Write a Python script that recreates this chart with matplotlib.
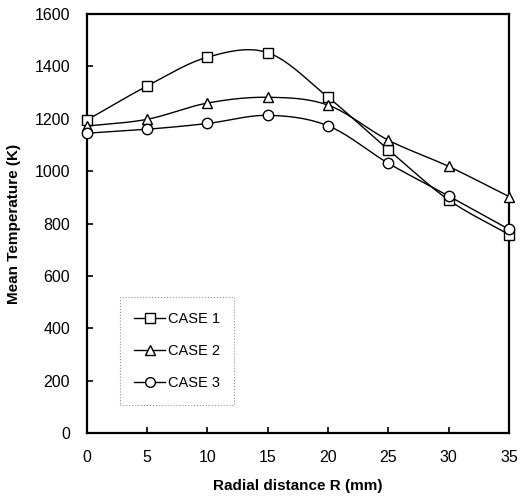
import numpy as np
import matplotlib
matplotlib.use('Agg')
import matplotlib.pyplot as plt

plt.rcParams['font.family'] = ['Liberation Sans', 'DejaVu Sans']

# radial positions (mm)
radius = [0, 5, 10, 15, 20, 25, 30, 35]

# mean temperature (K)
case1 = [1195, 1325, 1435, 1452, 1282, 1082, 890, 758]
case2 = [1172, 1198, 1260, 1282, 1252, 1118, 1018, 903]
case3 = [1145, 1160, 1182, 1213, 1173, 1030, 905, 778]

labels = ['CASE 1', 'CASE 2', 'CASE 3']
markers = ['s', '^', 'o']


def smooth(x, y, n=20):
    """Catmull-Rom curve through the points (like a spreadsheet smoothed line)"""
    x = np.asarray(x, float)
    y = np.asarray(y, float)
    px = np.concatenate([[2 * x[0] - x[1]], x, [2 * x[-1] - x[-2]]])
    py = np.concatenate([[2 * y[0] - y[1]], y, [2 * y[-1] - y[-2]]])
    xs, ys = [], []
    t = np.linspace(0, 1, n, endpoint=False)
    for i in range(1, len(px) - 2):
        for p, out in ((px, xs), (py, ys)):
            p0, p1, p2, p3 = p[i - 1], p[i], p[i + 1], p[i + 2]
            out.extend(0.5 * ((2 * p1) + (-p0 + p2) * t
                              + (2 * p0 - 5 * p1 + 4 * p2 - p3) * t ** 2
                              + (-p0 + 3 * p1 - 3 * p2 + p3) * t ** 3))
    xs.append(x[-1])
    ys.append(y[-1])
    return np.array(xs), np.array(ys)


fig = plt.figure(figsize=(5.2, 4.98), dpi=100)
ax = fig.add_axes([0.167, 0.130, 0.812, 0.842])

handles = []
for vals, lab, mk in zip([case1, case2, case3], labels, markers):
    sx, sy = smooth(radius, vals)
    ax.plot(sx, sy, color='black', lw=1.0, zorder=2)
    ax.plot(radius, vals, linestyle='none', marker=mk, ms=7.5 if mk != 's' else 7,
            mfc='white', mec='black', mew=1.0, zorder=3, clip_on=False)
    h, = ax.plot([], [], color='black', lw=1.0, marker=mk, ms=7,
                 mfc='white', mec='black', mew=1.0, label=lab)
    handles.append(h)

ax.set_xlim(0, 35)
ax.set_ylim(0, 1600)
ax.set_xticks(range(0, 36, 5))
ax.set_yticks(range(0, 1601, 200))
ax.tick_params(direction='in', length=4, width=1.2, labelsize=11.5)
ax.tick_params(axis='x', pad=12)
ax.tick_params(axis='y', pad=12)
for s in ax.spines.values():
    s.set_linewidth(1.6)

ax.set_xlabel('Radial distance R (mm)', fontsize=11, fontweight='bold', labelpad=10)
ax.set_ylabel('Mean Temperature (K)', fontsize=11, fontweight='bold', labelpad=10)

leg = ax.legend(handles=handles, loc='upper left', bbox_to_anchor=(0.078, 0.324),
                borderaxespad=0, frameon=True, fancybox=False, fontsize=10.5,
                handlelength=2.1, handletextpad=0.2, labelspacing=1.25,
                borderpad=1.0)
leg.get_frame().set_edgecolor('#777777')
leg.get_frame().set_linestyle(':')
leg.get_frame().set_linewidth(0.8)

fig.savefig('out.png', dpi=100)
